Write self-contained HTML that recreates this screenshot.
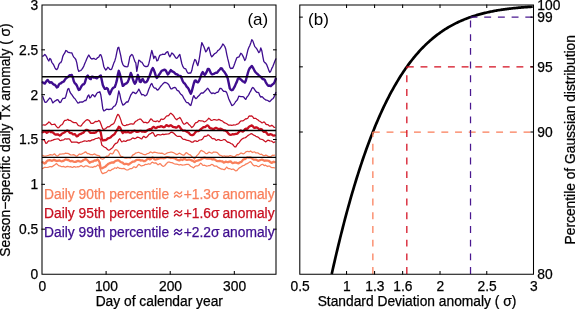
<!DOCTYPE html><html><head><meta charset="utf-8"><style>html,body{margin:0;padding:0;background:#fff;overflow:hidden}svg{display:block;will-change:transform;transform:translateZ(0)}text{font-family:"Liberation Sans",sans-serif;stroke-width:0.25px}</style></head><body>
<svg width="575" height="309" viewBox="0 0 575 309">
<rect width="575" height="309" fill="#fff"/>
<g fill="none" stroke-linejoin="round" stroke-linecap="round">
<polyline points="42.6,155.3 43.6,155.9 44.6,156.0 45.6,156.0 46.6,155.8 47.6,155.5 48.6,155.3 49.6,154.9 50.6,154.6 51.6,154.9 52.6,155.1 53.6,154.4 54.6,153.9 55.6,155.0 56.6,155.9 57.6,156.0 58.6,155.3 59.6,154.2 60.6,154.0 61.6,154.0 62.6,153.9 63.6,153.8 64.6,153.6 65.6,153.2 66.6,153.3 67.6,153.3 68.6,153.6 69.6,154.4 70.6,154.9 71.6,155.0 72.6,154.8 73.6,154.7 74.6,155.1 75.6,155.8 76.6,156.2 77.6,155.6 78.6,154.6 79.6,154.0 80.6,154.3 81.6,154.2 82.6,153.5 83.6,153.0 84.6,152.4 85.6,151.8 86.6,152.8 87.6,153.7 88.6,153.5 89.6,154.1 90.6,154.6 91.6,154.6 92.6,154.8 93.6,154.3 94.6,153.9 95.6,154.6 96.6,155.1 97.6,155.3 98.6,155.7 99.6,155.9 100.6,158.5 101.6,158.8 102.6,159.3 103.6,158.7 104.6,157.8 105.6,156.9 106.6,156.2 107.6,156.2 108.6,155.7 109.6,154.1 110.6,153.3 111.6,153.8 112.6,153.8 113.6,152.5 114.6,150.5 115.6,149.6 116.6,149.8 117.6,150.7 118.6,152.0 119.6,154.3 120.6,156.1 121.6,156.5 122.6,156.7 123.6,157.4 124.6,158.0 125.6,158.1 126.6,158.1 127.6,157.8 128.6,157.6 129.6,158.0 130.6,158.0 131.6,156.8 132.6,155.1 133.6,154.6 134.6,154.2 135.6,153.0 136.6,152.8 137.6,152.5 138.6,152.3 139.6,152.8 140.6,153.3 141.6,153.4 142.6,154.0 143.6,154.4 144.6,154.6 145.6,154.7 146.6,154.0 147.6,153.5 148.6,153.4 149.6,152.6 150.6,151.9 151.6,152.5 152.6,153.0 153.6,152.4 154.6,152.1 155.6,152.4 156.6,152.6 157.6,152.9 158.6,153.1 159.6,153.1 160.6,153.4 161.6,153.2 162.6,153.4 163.6,154.0 164.6,154.3 165.6,154.0 166.6,153.3 167.6,152.8 168.6,152.5 169.6,152.4 170.6,152.1 171.6,152.0 172.6,152.4 173.6,152.7 174.6,153.2 175.6,153.9 176.6,154.5 177.6,154.3 178.6,153.5 179.6,153.2 180.6,153.8 181.6,154.5 182.6,154.8 183.6,155.2 184.6,154.7 185.6,153.1 186.6,152.7 187.6,153.5 188.6,154.3 189.6,154.6 190.6,155.1 191.6,156.3 192.6,157.2 193.6,158.0 194.6,159.0 195.6,157.6 196.6,155.9 197.6,154.9 198.6,154.0 199.6,152.4 200.6,150.8 201.6,150.4 202.6,151.2 203.6,151.5 204.6,152.4 205.6,153.4 206.6,153.7 207.6,153.3 208.6,152.3 209.6,152.2 210.6,152.7 211.6,153.2 212.6,152.8 213.6,152.0 214.6,152.1 215.6,152.1 216.6,152.3 217.6,152.9 218.6,154.0 219.6,155.1 220.6,155.3 221.6,155.8 222.6,156.4 223.6,156.0 224.6,155.9 225.6,156.3 226.6,156.1 227.6,156.1 228.6,156.3 229.6,155.7 230.6,155.7 231.6,156.0 232.6,156.3 233.6,156.8 234.6,156.7 235.6,156.0 236.6,154.9 237.6,154.7 238.6,154.8 239.6,154.1 240.6,153.2 241.6,153.1 242.6,153.7 243.6,153.8 244.6,153.2 245.6,152.1 246.6,151.5 247.6,151.3 248.6,151.7 249.6,151.6 250.6,151.0 251.6,151.9 252.6,152.5 253.6,152.0 254.6,151.9 255.6,152.8 256.6,152.9 257.6,152.8 258.6,153.4 259.6,154.1 260.6,154.3 261.6,154.2 262.6,154.9 263.6,155.7 264.6,155.7 265.6,155.1 266.6,155.3 267.6,156.1 268.6,156.3 269.6,156.5 270.6,156.7 271.6,155.9 272.6,155.2 273.6,155.3 274.6,155.2" stroke="#f97f5b" stroke-width="1.25"/>
<polyline points="42.6,168.6 43.6,167.9 44.6,167.3 45.6,167.4 46.6,167.5 47.6,167.4 48.6,167.2 49.6,166.7 50.6,166.6 51.6,166.9 52.6,166.4 53.6,165.6 54.6,165.0 55.6,164.1 56.6,163.7 57.6,164.6 58.6,165.6 59.6,165.9 60.6,166.2 61.6,166.7 62.6,166.6 63.6,166.4 64.6,166.8 65.6,167.1 66.6,166.7 67.6,166.4 68.6,166.7 69.6,166.8 70.6,166.7 71.6,167.1 72.6,167.4 73.6,166.7 74.6,166.6 75.6,167.2 76.6,167.0 77.6,166.7 78.6,166.8 79.6,166.4 80.6,165.7 81.6,165.7 82.6,166.5 83.6,166.9 84.6,166.4 85.6,165.8 86.6,165.8 87.6,166.1 88.6,166.6 89.6,167.0 90.6,167.1 91.6,167.0 92.6,167.4 93.6,166.9 94.6,166.3 95.6,166.6 96.6,166.0 97.6,164.9 98.6,165.5 99.6,166.7 100.6,170.1 101.6,172.5 102.6,173.7 103.6,173.3 104.6,172.9 105.6,172.7 106.6,172.2 107.6,171.1 108.6,170.2 109.6,170.6 110.6,170.7 111.6,169.6 112.6,169.2 113.6,168.9 114.6,167.8 115.6,168.0 116.6,168.3 117.6,167.2 118.6,167.7 119.6,168.4 120.6,168.3 121.6,168.6 122.6,168.7 123.6,168.4 124.6,168.7 125.6,169.5 126.6,169.9 127.6,170.0 128.6,169.6 129.6,168.9 130.6,168.7 131.6,168.7 132.6,168.0 133.6,166.9 134.6,166.9 135.6,167.6 136.6,167.2 137.6,165.6 138.6,164.4 139.6,164.7 140.6,165.6 141.6,166.0 142.6,165.7 143.6,165.5 144.6,164.9 145.6,164.3 146.6,164.5 147.6,164.2 148.6,163.7 149.6,164.2 150.6,163.9 151.6,162.5 152.6,162.2 153.6,162.9 154.6,163.1 155.6,162.9 156.6,163.4 157.6,164.6 158.6,164.6 159.6,163.6 160.6,163.9 161.6,165.3 162.6,166.1 163.6,166.3 164.6,165.8 165.6,164.5 166.6,163.5 167.6,162.4 168.6,162.0 169.6,162.1 170.6,162.5 171.6,162.5 172.6,162.9 173.6,163.5 174.6,163.9 175.6,164.1 176.6,164.1 177.6,164.3 178.6,164.8 179.6,164.8 180.6,164.5 181.6,164.8 182.6,165.1 183.6,165.0 184.6,164.8 185.6,164.6 186.6,164.4 187.6,164.4 188.6,164.4 189.6,165.3 190.6,166.2 191.6,166.7 192.6,167.3 193.6,167.9 194.6,166.8 195.6,166.0 196.6,165.9 197.6,165.8 198.6,165.5 199.6,164.3 200.6,163.2 201.6,163.8 202.6,165.1 203.6,165.3 204.6,165.2 205.6,165.7 206.6,166.1 207.6,166.0 208.6,165.7 209.6,165.7 210.6,165.1 211.6,164.4 212.6,164.5 213.6,165.6 214.6,166.1 215.6,166.2 216.6,166.1 217.6,166.9 218.6,167.7 219.6,168.1 220.6,168.7 221.6,169.1 222.6,169.2 223.6,169.5 224.6,169.5 225.6,168.5 226.6,167.1 227.6,167.9 228.6,168.7 229.6,168.7 230.6,169.0 231.6,169.5 232.6,169.2 233.6,169.2 234.6,170.0 235.6,170.9 236.6,170.7 237.6,169.7 238.6,168.6 239.6,167.8 240.6,167.2 241.6,166.5 242.6,165.9 243.6,165.5 244.6,165.1 245.6,164.2 246.6,163.8 247.6,163.4 248.6,162.8 249.6,162.1 250.6,161.7 251.6,162.9 252.6,164.5 253.6,165.4 254.6,165.9 255.6,165.5 256.6,165.6 257.6,166.5 258.6,166.7 259.6,166.1 260.6,165.3 261.6,164.5 262.6,164.3 263.6,165.1 264.6,165.6 265.6,165.2 266.6,165.9 267.6,166.5 268.6,166.0 269.6,166.1 270.6,166.9 271.6,167.6 272.6,167.6 273.6,167.7 274.6,167.8" stroke="#f97f5b" stroke-width="1.25"/>
<polyline points="42.6,162.3 43.6,162.8 44.6,163.5 45.6,163.0 46.6,161.5 47.6,160.6 48.6,160.3 49.6,160.2 50.6,160.4 51.6,160.8 52.6,160.6 53.6,159.9 54.6,160.0 55.6,160.7 56.6,161.0 57.6,160.9 58.6,160.6 59.6,160.5 60.6,161.0 61.6,161.3 62.6,161.0 63.6,160.8 64.6,160.1 65.6,159.4 66.6,159.6 67.6,160.0 68.6,160.0 69.6,160.9 70.6,161.3 71.6,161.0 72.6,161.2 73.6,161.6 74.6,161.9 75.6,161.9 76.6,161.4 77.6,161.0 78.6,161.0 79.6,161.3 80.6,161.6 81.6,161.3 82.6,160.7 83.6,160.0 84.6,159.7 85.6,159.1 86.6,159.5 87.6,160.5 88.6,161.6 89.6,162.8 90.6,162.1 91.6,161.7 92.6,161.7 93.6,161.0 94.6,160.5 95.6,160.6 96.6,160.1 97.6,159.4 98.6,160.5 99.6,162.3 100.6,167.7 101.6,168.4 102.6,168.1 103.6,167.5 104.6,167.0 105.6,166.4 106.6,165.4 107.6,164.5 108.6,163.7 109.6,163.2 110.6,163.0 111.6,162.5 112.6,162.5 113.6,162.6 114.6,161.6 115.6,160.9 116.6,160.7 117.6,160.4 118.6,160.3 119.6,161.1 120.6,162.0 121.6,162.3 122.6,162.6 123.6,163.7 124.6,164.2 125.6,163.9 126.6,163.8 127.6,164.3 128.6,164.5 129.6,163.8 130.6,163.1 131.6,162.4 132.6,161.7 133.6,161.7 134.6,161.4 135.6,160.5 136.6,159.9 137.6,159.8 138.6,159.8 139.6,160.0 140.6,160.6 141.6,160.3 142.6,160.4 143.6,161.1 144.6,161.2 145.6,160.6 146.6,159.8 147.6,158.8 148.6,158.5 149.6,159.3 150.6,159.3 151.6,158.1 152.6,157.5 153.6,158.3 154.6,159.4 155.6,159.6 156.6,159.2 157.6,159.0 158.6,158.6 159.6,158.2 160.6,158.0 161.6,157.8 162.6,158.0 163.6,158.3 164.6,158.2 165.6,157.6 166.6,157.2 167.6,157.2 168.6,157.4 169.6,157.7 170.6,158.0 171.6,157.8 172.6,157.8 173.6,158.0 174.6,158.2 175.6,158.8 176.6,159.5 177.6,159.9 178.6,160.3 179.6,160.3 180.6,159.4 181.6,159.6 182.6,160.0 183.6,159.0 184.6,158.8 185.6,159.5 186.6,159.8 187.6,159.8 188.6,159.7 189.6,159.7 190.6,160.0 191.6,160.5 192.6,160.6 193.6,161.5 194.6,162.0 195.6,161.2 196.6,160.8 197.6,160.7 198.6,160.2 199.6,160.0 200.6,159.7 201.6,159.1 202.6,158.5 203.6,157.8 204.6,157.6 205.6,158.1 206.6,158.5 207.6,158.4 208.6,158.6 209.6,158.7 210.6,158.5 211.6,159.1 212.6,159.5 213.6,159.2 214.6,159.3 215.6,160.1 216.6,160.8 217.6,161.1 218.6,161.1 219.6,161.0 220.6,161.2 221.6,161.3 222.6,161.5 223.6,162.6 224.6,162.4 225.6,161.6 226.6,161.9 227.6,162.1 228.6,162.0 229.6,161.6 230.6,161.4 231.6,162.3 232.6,163.1 233.6,162.9 234.6,162.5 235.6,162.6 236.6,162.7 237.6,163.2 238.6,163.3 239.6,162.5 240.6,162.1 241.6,161.7 242.6,160.3 243.6,159.3 244.6,159.2 245.6,158.7 246.6,157.7 247.6,157.3 248.6,157.7 249.6,157.4 250.6,157.5 251.6,158.1 252.6,158.9 253.6,159.6 254.6,159.7 255.6,159.6 256.6,159.9 257.6,160.6 258.6,160.8 259.6,160.3 260.6,160.0 261.6,159.7 262.6,159.7 263.6,160.4 264.6,160.8 265.6,160.5 266.6,160.6 267.6,160.7 268.6,160.8 269.6,161.5 270.6,162.3 271.6,162.9 272.6,162.3 273.6,161.7 274.6,162.1" stroke="#f97f5b" stroke-width="2.30"/>
<polyline points="42.8,125.0 43.8,124.9 44.8,125.1 45.8,124.8 46.8,124.0 47.8,123.2 48.8,122.0 49.8,122.4 50.8,123.8 51.8,124.7 52.8,124.5 53.8,124.3 54.8,124.1 55.8,125.6 56.8,126.9 57.8,127.8 58.8,127.7 59.8,126.4 60.8,125.2 61.8,124.7 62.8,123.7 63.8,121.6 64.8,120.3 65.8,120.4 66.8,120.0 67.8,119.3 68.8,120.3 69.8,120.4 70.8,120.7 71.8,121.4 72.8,122.2 73.8,122.6 74.8,122.5 75.8,122.6 76.8,123.3 77.8,125.0 78.8,125.6 79.8,126.0 80.8,126.2 81.8,125.0 82.8,123.5 83.8,122.5 84.8,121.4 85.8,120.5 86.8,119.8 87.8,119.7 88.8,120.3 89.8,121.3 90.8,123.1 91.8,123.3 92.8,123.3 93.8,122.9 94.8,121.9 95.8,121.4 96.8,121.7 97.8,121.2 98.8,120.4 99.8,121.2 100.8,123.7 101.8,126.5 102.8,128.9 103.8,129.5 104.8,129.0 105.8,128.5 106.8,127.4 107.8,126.7 108.8,126.9 109.8,126.2 110.8,125.2 111.8,124.6 112.8,124.1 113.8,123.5 114.8,121.5 115.8,118.9 116.8,116.2 117.8,114.4 118.8,115.0 119.8,117.2 120.8,119.9 121.8,123.4 122.8,125.0 123.8,125.4 124.8,125.7 125.8,125.5 126.8,124.7 127.8,125.0 128.8,124.5 129.8,124.1 130.8,123.9 131.8,123.8 132.8,124.2 133.8,123.8 134.8,122.2 135.8,121.3 136.8,120.7 137.8,119.9 138.8,119.5 139.8,119.0 140.8,119.1 141.8,120.3 142.8,121.5 143.8,122.6 144.8,122.4 145.8,122.4 146.8,122.9 147.8,122.8 148.8,122.0 149.8,120.4 150.8,118.9 151.8,119.3 152.8,120.7 153.8,121.3 154.8,121.4 155.8,121.6 156.8,121.0 157.8,120.9 158.8,121.9 159.8,121.3 160.8,119.4 161.8,119.0 162.8,119.5 163.8,119.1 164.8,118.2 165.8,116.9 166.8,115.9 167.8,115.9 168.8,115.4 169.8,114.0 170.8,113.1 171.8,114.0 172.8,114.8 173.8,116.1 174.8,117.8 175.8,119.1 176.8,119.8 177.8,118.7 178.8,118.2 179.8,117.5 180.8,118.8 181.8,120.7 182.8,122.9 183.8,124.1 184.8,124.1 185.8,123.2 186.8,122.5 187.8,123.1 188.8,124.5 189.8,125.2 190.8,126.3 191.8,127.5 192.8,126.8 193.8,125.6 194.8,123.9 195.8,122.5 196.8,122.5 197.8,121.9 198.8,120.5 199.8,120.7 200.8,121.0 201.8,120.8 202.8,121.0 203.8,121.6 204.8,121.8 205.8,121.3 206.8,120.4 207.8,119.4 208.8,118.2 209.8,118.9 210.8,120.1 211.8,120.3 212.8,120.0 213.8,119.5 214.8,119.5 215.8,120.0 216.8,120.2 217.8,119.9 218.8,119.4 219.8,119.8 220.8,120.6 221.8,120.7 222.8,121.3 223.8,122.4 224.8,122.9 225.8,123.2 226.8,123.7 227.8,124.4 228.8,125.2 229.8,125.2 230.8,125.1 231.8,125.3 232.8,125.2 233.8,124.8 234.8,125.0 235.8,124.8 236.8,124.2 237.8,124.1 238.8,123.4 239.8,122.0 240.8,121.0 241.8,120.8 242.8,120.9 243.8,120.2 244.8,119.4 245.8,118.7 246.8,118.8 247.8,118.2 248.8,116.3 249.8,115.9 250.8,116.2 251.8,115.9 252.8,116.9 253.8,118.4 254.8,118.4 255.8,118.4 256.8,119.3 257.8,119.8 258.8,120.7 259.8,121.2 260.8,121.9 261.8,122.8 262.8,122.6 263.8,121.9 264.8,122.5 265.8,124.1 266.8,124.6 267.8,124.6 268.8,125.4 269.8,126.2 270.8,125.9 271.8,125.2 272.8,125.9 273.8,127.1 274.8,127.4" stroke="#c80f20" stroke-width="1.25"/>
<polyline points="42.8,139.8 43.8,139.7 44.8,141.1 45.8,143.3 46.8,143.1 47.8,141.7 48.8,140.8 49.8,141.0 50.8,140.8 51.8,140.4 52.8,140.1 53.8,139.6 54.8,139.3 55.8,139.2 56.8,139.0 57.8,138.9 58.8,139.2 59.8,140.4 60.8,140.7 61.8,140.0 62.8,140.0 63.8,139.8 64.8,138.9 65.8,138.8 66.8,139.1 67.8,138.8 68.8,138.8 69.8,139.4 70.8,141.2 71.8,142.3 72.8,142.0 73.8,142.1 74.8,142.2 75.8,142.1 76.8,142.1 77.8,142.6 78.8,143.1 79.8,142.5 80.8,142.2 81.8,142.0 82.8,141.5 83.8,141.2 84.8,140.9 85.8,141.0 86.8,141.3 87.8,141.0 88.8,140.7 89.8,141.1 90.8,140.7 91.8,139.9 92.8,139.9 93.8,139.7 94.8,139.0 95.8,138.5 96.8,138.4 97.8,138.1 98.8,137.7 99.8,138.2 100.8,140.2 101.8,145.0 102.8,145.9 103.8,146.8 104.8,147.3 105.8,147.7 106.8,148.8 107.8,149.7 108.8,150.2 109.8,149.7 110.8,149.0 111.8,148.3 112.8,147.4 113.8,145.5 114.8,144.3 115.8,143.3 116.8,143.1 117.8,142.0 118.8,139.6 119.8,138.7 120.8,140.6 121.8,141.8 122.8,141.5 123.8,140.8 124.8,141.3 125.8,141.4 126.8,140.6 127.8,140.2 128.8,140.1 129.8,139.8 130.8,139.5 131.8,138.6 132.8,137.9 133.8,138.3 134.8,138.7 135.8,138.2 136.8,137.4 137.8,137.2 138.8,137.5 139.8,137.9 140.8,138.6 141.8,138.8 142.8,137.2 143.8,136.3 144.8,137.1 145.8,137.6 146.8,137.0 147.8,136.0 148.8,134.6 149.8,133.9 150.8,133.6 151.8,132.7 152.8,132.5 153.8,133.8 154.8,135.9 155.8,136.3 156.8,135.1 157.8,134.6 158.8,134.6 159.8,134.8 160.8,135.0 161.8,134.5 162.8,134.2 163.8,134.6 164.8,134.4 165.8,134.2 166.8,134.1 167.8,134.0 168.8,133.9 169.8,133.2 170.8,132.3 171.8,132.1 172.8,132.6 173.8,133.2 174.8,134.2 175.8,135.2 176.8,136.0 177.8,136.4 178.8,136.4 179.8,136.3 180.8,136.6 181.8,137.9 182.8,139.0 183.8,139.4 184.8,139.4 185.8,139.8 186.8,140.3 187.8,140.4 188.8,140.7 189.8,140.9 190.8,141.6 191.8,142.2 192.8,142.2 193.8,141.4 194.8,140.8 195.8,140.8 196.8,141.5 197.8,141.4 198.8,140.4 199.8,140.0 200.8,139.9 201.8,139.6 202.8,138.7 203.8,137.0 204.8,136.2 205.8,136.4 206.8,136.0 207.8,134.8 208.8,135.1 209.8,136.1 210.8,137.0 211.8,138.2 212.8,138.8 213.8,138.5 214.8,139.0 215.8,140.2 216.8,140.3 217.8,139.6 218.8,139.5 219.8,140.1 220.8,140.5 221.8,140.3 222.8,140.0 223.8,139.5 224.8,139.6 225.8,140.4 226.8,141.6 227.8,142.3 228.8,142.2 229.8,142.8 230.8,143.5 231.8,143.8 232.8,144.5 233.8,145.8 234.8,146.9 235.8,146.9 236.8,145.1 237.8,143.6 238.8,143.0 239.8,141.6 240.8,140.2 241.8,139.3 242.8,138.6 243.8,138.0 244.8,137.8 245.8,137.4 246.8,136.6 247.8,135.6 248.8,135.0 249.8,134.5 250.8,133.8 251.8,133.6 252.8,134.5 253.8,135.1 254.8,135.5 255.8,136.3 256.8,136.8 257.8,136.9 258.8,137.7 259.8,138.9 260.8,139.2 261.8,139.3 262.8,139.8 263.8,140.4 264.8,141.2 265.8,141.9 266.8,141.0 267.8,140.2 268.8,140.4 269.8,140.9 270.8,141.0 271.8,141.2 272.8,142.0 273.8,142.6 274.8,141.9" stroke="#c80f20" stroke-width="1.25"/>
<polyline points="42.8,132.2 43.8,131.8 44.8,131.4 45.8,131.9 46.8,132.8 47.8,132.2 48.8,131.0 49.8,131.1 50.8,132.1 51.8,132.2 52.8,132.4 53.8,133.3 54.8,134.2 55.8,134.7 56.8,134.5 57.8,134.3 58.8,134.9 59.8,135.6 60.8,135.0 61.8,133.7 62.8,133.2 63.8,132.8 64.8,132.2 65.8,131.3 66.8,130.7 67.8,130.7 68.8,131.5 69.8,132.8 70.8,133.1 71.8,133.2 72.8,134.3 73.8,134.4 74.8,134.1 75.8,135.3 76.8,136.4 77.8,136.0 78.8,134.7 79.8,134.2 80.8,134.0 81.8,133.3 82.8,133.0 83.8,132.3 84.8,130.9 85.8,130.0 86.8,130.0 87.8,130.2 88.8,130.8 89.8,132.4 90.8,132.9 91.8,132.9 92.8,132.9 93.8,132.7 94.8,132.8 95.8,132.4 96.8,131.2 97.8,130.5 98.8,130.2 99.8,130.3 100.8,132.8 101.8,138.6 102.8,140.3 103.8,140.4 104.8,140.0 105.8,140.1 106.8,139.4 107.8,138.4 108.8,138.2 109.8,137.8 110.8,137.2 111.8,136.1 112.8,135.3 113.8,134.7 114.8,133.8 115.8,132.0 116.8,130.3 117.8,128.7 118.8,126.8 119.8,127.2 120.8,129.1 121.8,131.7 122.8,133.1 123.8,131.9 124.8,131.9 125.8,132.3 126.8,132.2 127.8,132.0 128.8,132.2 129.8,132.6 130.8,132.6 131.8,132.1 132.8,131.5 133.8,130.9 134.8,130.7 135.8,131.4 136.8,131.9 137.8,131.8 138.8,131.5 139.8,130.9 140.8,130.8 141.8,131.5 142.8,131.7 143.8,131.7 144.8,131.9 145.8,131.6 146.8,130.8 147.8,130.1 148.8,129.5 149.8,129.1 150.8,129.1 151.8,128.6 152.8,127.3 153.8,126.9 154.8,127.7 155.8,128.1 156.8,127.6 157.8,126.8 158.8,126.9 159.8,126.8 160.8,126.1 161.8,126.3 162.8,126.9 163.8,127.3 164.8,126.9 165.8,125.6 166.8,125.1 167.8,125.9 168.8,126.3 169.8,125.6 170.8,125.2 171.8,125.9 172.8,126.8 173.8,127.0 174.8,127.1 175.8,127.6 176.8,127.5 177.8,126.5 178.8,125.9 179.8,127.1 180.8,128.6 181.8,129.6 182.8,130.5 183.8,130.6 184.8,130.6 185.8,131.0 186.8,131.7 187.8,132.2 188.8,132.8 189.8,134.1 190.8,134.9 191.8,135.1 192.8,135.0 193.8,134.4 194.8,133.1 195.8,131.8 196.8,131.0 197.8,131.1 198.8,131.0 199.8,130.1 200.8,129.2 201.8,128.5 202.8,127.6 203.8,127.1 204.8,127.2 205.8,126.5 206.8,125.6 207.8,125.4 208.8,126.5 209.8,128.0 210.8,128.5 211.8,128.5 212.8,129.0 213.8,129.2 214.8,128.4 215.8,127.9 216.8,128.2 217.8,128.7 218.8,129.2 219.8,128.9 220.8,128.7 221.8,129.2 222.8,129.8 223.8,130.3 224.8,130.4 225.8,130.8 226.8,131.6 227.8,132.8 228.8,134.1 229.8,134.7 230.8,134.8 231.8,134.5 232.8,134.2 233.8,134.3 234.8,134.1 235.8,133.9 236.8,133.9 237.8,133.2 238.8,132.1 239.8,131.1 240.8,130.5 241.8,131.3 242.8,131.7 243.8,130.8 244.8,129.3 245.8,128.7 246.8,129.0 247.8,128.4 248.8,126.9 249.8,126.3 250.8,125.9 251.8,125.4 252.8,126.1 253.8,127.6 254.8,127.9 255.8,127.4 256.8,127.5 257.8,128.0 258.8,128.9 259.8,129.5 260.8,129.0 261.8,129.3 262.8,130.9 263.8,131.9 264.8,131.9 265.8,131.9 266.8,133.2 267.8,134.7 268.8,134.9 269.8,134.4 270.8,134.2 271.8,134.6 272.8,135.3 273.8,135.6 274.8,135.4" stroke="#c80f20" stroke-width="2.30"/>
<polyline points="42.8,56.2 43.8,55.7 44.8,54.4 45.8,55.5 46.8,57.2 47.8,59.5 48.8,61.0 49.8,58.4 50.8,59.3 51.8,62.3 52.8,63.6 53.8,65.2 54.8,67.6 55.8,69.1 56.8,69.6 57.8,68.2 58.8,64.7 59.8,63.0 60.8,62.6 61.8,60.5 62.8,56.4 63.8,54.3 64.8,52.9 65.8,50.5 66.8,50.9 67.8,52.1 68.8,52.5 69.8,52.7 70.8,52.8 71.8,52.8 72.8,55.2 73.8,57.1 74.8,58.1 75.8,59.5 76.8,62.9 77.8,68.7 78.8,71.4 79.8,70.8 80.8,70.5 81.8,69.3 82.8,68.0 83.8,66.1 84.8,63.4 85.8,61.2 86.8,58.7 87.8,56.7 88.8,55.0 89.8,56.7 90.8,58.3 91.8,59.1 92.8,58.7 93.8,58.3 94.8,59.0 95.8,59.4 96.8,58.5 97.8,57.5 98.8,57.1 99.8,54.9 100.8,54.7 101.8,57.3 102.8,61.4 103.8,66.5 104.8,68.7 105.8,70.0 106.8,69.0 107.8,67.2 108.8,68.1 109.8,69.4 110.8,69.6 111.8,68.9 112.8,66.0 113.8,63.1 114.8,60.9 115.8,57.4 116.8,52.4 117.8,47.8 118.8,47.3 119.8,51.6 120.8,55.9 121.8,61.6 122.8,64.3 123.8,65.8 124.8,66.6 125.8,66.5 126.8,66.8 127.8,66.7 128.8,62.3 129.8,56.9 130.8,55.5 131.8,54.4 132.8,55.4 133.8,58.4 134.8,61.3 135.8,62.9 136.8,71.4 137.8,65.8 138.8,60.1 139.8,60.7 140.8,61.9 141.8,62.2 142.8,63.7 143.8,65.5 144.8,66.3 145.8,66.5 146.8,66.7 147.8,66.2 148.8,63.7 149.8,59.6 150.8,54.7 151.8,50.4 152.8,54.0 153.8,58.5 154.8,56.2 155.8,57.1 156.8,60.9 157.8,60.4 158.8,57.8 159.8,55.3 160.8,54.8 161.8,54.6 162.8,54.2 163.8,54.3 164.8,54.4 165.8,53.0 166.8,52.0 167.8,51.7 168.8,54.9 169.8,56.8 170.8,55.1 171.8,52.9 172.8,53.8 173.8,54.8 174.8,56.3 175.8,58.0 176.8,58.3 177.8,57.2 178.8,55.7 179.8,54.4 180.8,59.0 181.8,63.5 182.8,66.4 183.8,68.0 184.8,68.7 185.8,68.9 186.8,71.3 187.8,72.9 188.8,73.3 189.8,72.8 190.8,73.1 191.8,70.6 192.8,65.7 193.8,62.4 194.8,59.4 195.8,60.3 196.8,63.2 197.8,65.7 198.8,61.5 199.8,55.6 200.8,48.7 201.8,42.6 202.8,44.6 203.8,46.5 204.8,49.2 205.8,51.9 206.8,50.7 207.8,48.2 208.8,47.2 209.8,51.1 210.8,55.1 211.8,56.8 212.8,55.8 213.8,54.5 214.8,53.5 215.8,53.1 216.8,52.1 217.8,50.6 218.8,50.0 219.8,49.1 220.8,47.6 221.8,46.1 222.8,44.0 223.8,45.0 224.8,46.5 225.8,49.3 226.8,54.6 227.8,58.9 228.8,62.8 229.8,67.4 230.8,68.7 231.8,68.2 232.8,68.3 233.8,65.9 234.8,63.3 235.8,60.4 236.8,57.8 237.8,57.2 238.8,57.2 239.8,55.4 240.8,53.3 241.8,54.0 242.8,55.9 243.8,57.9 244.8,60.5 245.8,58.7 246.8,54.7 247.8,50.3 248.8,47.5 249.8,45.6 250.8,42.9 251.8,39.7 252.8,40.9 253.8,43.8 254.8,46.6 255.8,47.6 256.8,48.9 257.8,50.7 258.8,52.6 259.8,51.7 260.8,47.9 261.8,50.7 262.8,56.3 263.8,61.4 264.8,62.6 265.8,63.3 266.8,64.9 267.8,67.6 268.8,70.4 269.8,72.4 270.8,71.1 271.8,68.4 272.8,66.6 273.8,64.0 274.8,61.3 275.8,58.9" stroke="#3f0d8f" stroke-width="1.30"/>
<polyline points="42.8,96.4 43.8,99.6 44.8,102.1 45.8,102.4 46.8,101.7 47.8,100.3 48.8,99.1 49.8,98.0 50.8,98.5 51.8,100.5 52.8,102.9 53.8,102.1 54.8,101.1 55.8,100.7 56.8,99.8 57.8,99.6 58.8,101.1 59.8,102.6 60.8,102.2 61.8,100.0 62.8,98.5 63.8,98.3 64.8,98.4 65.8,96.5 66.8,92.7 67.8,89.0 68.8,88.5 69.8,91.6 70.8,93.5 71.8,94.6 72.8,96.2 73.8,97.7 74.8,98.5 75.8,100.0 76.8,101.5 77.8,103.0 78.8,102.9 79.8,102.0 80.8,102.1 81.8,101.9 82.8,102.0 83.8,101.3 84.8,100.5 85.8,100.7 86.8,98.5 87.8,95.9 88.8,94.9 89.8,98.0 90.8,97.2 91.8,95.3 92.8,94.6 93.8,95.7 94.8,96.8 95.8,95.2 96.8,93.4 97.8,92.4 98.8,92.4 99.8,91.7 100.8,94.8 101.8,101.3 102.8,108.7 103.8,110.9 104.8,110.6 105.8,109.7 106.8,109.2 107.8,109.4 108.8,109.5 109.8,109.3 110.8,109.2 111.8,109.1 112.8,107.6 113.8,106.4 114.8,106.0 115.8,104.7 116.8,102.1 117.8,96.3 118.8,90.9 119.8,94.1 120.8,99.1 121.8,102.5 122.8,105.1 123.8,104.6 124.8,103.9 125.8,102.8 126.8,101.8 127.8,102.2 128.8,99.9 129.8,97.4 130.8,95.0 131.8,93.7 132.8,92.2 133.8,92.4 134.8,93.1 135.8,93.6 136.8,92.5 137.8,91.0 138.8,89.1 139.8,90.9 140.8,93.2 141.8,94.9 142.8,94.5 143.8,94.9 144.8,95.9 145.8,95.6 146.8,94.7 147.8,92.3 148.8,89.3 149.8,87.1 150.8,84.5 151.8,83.4 152.8,85.8 153.8,87.5 154.8,88.2 155.8,88.2 156.8,89.7 157.8,90.2 158.8,89.0 159.8,87.7 160.8,86.2 161.8,85.1 162.8,83.9 163.8,83.1 164.8,82.3 165.8,82.6 166.8,83.0 167.8,83.8 168.8,84.7 169.8,86.9 170.8,88.8 171.8,88.9 172.8,88.1 173.8,87.7 174.8,87.4 175.8,88.0 176.8,89.9 177.8,90.7 178.8,91.2 179.8,92.9 180.8,94.2 181.8,94.9 182.8,96.2 183.8,98.3 184.8,99.7 185.8,101.6 186.8,102.6 187.8,102.6 188.8,103.5 189.8,104.9 190.8,105.5 191.8,102.1 192.8,98.1 193.8,95.6 194.8,97.5 195.8,98.6 196.8,98.0 197.8,96.7 198.8,95.8 199.8,94.7 200.8,93.3 201.8,92.9 202.8,93.1 203.8,92.4 204.8,91.3 205.8,90.3 206.8,89.1 207.8,88.3 208.8,89.6 209.8,91.3 210.8,92.7 211.8,93.6 212.8,93.0 213.8,93.1 214.8,93.7 215.8,93.0 216.8,92.3 217.8,92.4 218.8,90.8 219.8,88.5 220.8,88.4 221.8,89.0 222.8,90.6 223.8,91.4 224.8,91.4 225.8,91.5 226.8,92.9 227.8,95.9 228.8,99.0 229.8,101.1 230.8,103.2 231.8,105.6 232.8,105.1 233.8,104.5 234.8,103.0 235.8,101.4 236.8,100.6 237.8,98.9 238.8,96.1 239.8,96.3 240.8,96.6 241.8,96.7 242.8,96.7 243.8,97.1 244.8,98.5 245.8,99.4 246.8,97.2 247.8,96.1 248.8,94.6 249.8,92.5 250.8,90.9 251.8,88.5 252.8,87.4 253.8,88.3 254.8,89.8 255.8,91.3 256.8,92.3 257.8,92.4 258.8,92.9 259.8,95.7 260.8,97.1 261.8,96.6 262.8,97.3 263.8,98.5 264.8,99.3 265.8,100.1 266.8,100.2 267.8,100.5 268.8,101.3 269.8,101.5 270.8,100.5 271.8,99.4 272.8,98.8 273.8,97.5 274.8,95.3 275.8,92.4" stroke="#3f0d8f" stroke-width="1.30"/>
<polyline points="42.8,82.3 43.8,83.2 44.8,83.5 45.8,82.0 46.8,80.6 47.8,80.0 48.8,81.7 49.8,82.7 50.8,82.3 51.8,82.5 52.8,83.8 53.8,84.6 54.8,84.8 55.8,85.8 56.8,87.5 57.8,87.0 58.8,84.8 59.8,83.6 60.8,83.3 61.8,82.3 62.8,82.0 63.8,81.5 64.8,79.9 65.8,78.5 66.8,77.8 67.8,77.1 68.8,76.1 69.8,75.1 70.8,75.3 71.8,74.9 72.8,77.4 73.8,81.3 74.8,83.3 75.8,84.0 76.8,85.5 77.8,87.9 78.8,90.0 79.8,89.4 80.8,87.5 81.8,85.7 82.8,84.5 83.8,84.3 84.8,82.8 85.8,79.4 86.8,76.5 87.8,75.5 88.8,77.5 89.8,78.6 90.8,79.1 91.8,76.6 92.8,76.7 93.8,77.6 94.8,77.3 95.8,77.9 96.8,78.3 97.8,77.4 98.8,77.0 99.8,76.0 100.8,75.5 101.8,80.2 102.8,84.9 103.8,87.2 104.8,88.8 105.8,88.7 106.8,88.1 107.8,89.0 108.8,92.2 109.8,94.2 110.8,92.1 111.8,89.6 112.8,88.2 113.8,87.5 114.8,87.0 115.8,84.1 116.8,80.7 117.8,74.7 118.8,70.8 119.8,73.9 120.8,77.5 121.8,81.9 122.8,85.9 123.8,85.2 124.8,84.1 125.8,83.7 126.8,83.1 127.8,81.9 128.8,79.4 129.8,76.4 130.8,73.0 131.8,75.3 132.8,78.8 133.8,81.9 134.8,83.7 135.8,82.3 136.8,79.2 137.8,75.0 138.8,77.2 139.8,81.7 140.8,82.0 141.8,79.8 142.8,79.1 143.8,81.3 144.8,82.3 145.8,82.4 146.8,81.6 147.8,79.8 148.8,77.3 149.8,75.5 150.8,72.5 151.8,69.7 152.8,68.1 153.8,69.9 154.8,72.7 155.8,75.9 156.8,78.0 157.8,76.7 158.8,75.0 159.8,73.8 160.8,72.1 161.8,70.8 162.8,70.3 163.8,70.0 164.8,69.7 165.8,70.4 166.8,72.5 167.8,74.4 168.8,73.4 169.8,71.6 170.8,70.1 171.8,71.1 172.8,71.7 173.8,72.1 174.8,73.1 175.8,74.1 176.8,74.3 177.8,74.9 178.8,75.8 179.8,75.9 180.8,76.2 181.8,78.8 182.8,81.4 183.8,82.9 184.8,83.6 185.8,85.1 186.8,86.9 187.8,87.7 188.8,89.3 189.8,91.8 190.8,93.7 191.8,91.2 192.8,87.4 193.8,83.5 194.8,80.6 195.8,80.5 196.8,82.0 197.8,82.4 198.8,81.2 199.8,79.1 200.8,76.1 201.8,73.4 202.8,72.1 203.8,73.9 204.8,74.9 205.8,73.5 206.8,71.6 207.8,69.0 208.8,68.9 209.8,70.7 210.8,73.0 211.8,74.2 212.8,74.2 213.8,73.9 214.8,73.3 215.8,72.7 216.8,72.8 217.8,71.8 218.8,70.5 219.8,69.5 220.8,68.3 221.8,68.4 222.8,70.2 223.8,71.3 224.8,72.6 225.8,74.1 226.8,75.8 227.8,78.7 228.8,83.6 229.8,88.4 230.8,89.8 231.8,90.3 232.8,89.8 233.8,88.0 234.8,86.4 235.8,83.9 236.8,81.9 237.8,79.0 238.8,77.6 239.8,78.7 240.8,79.6 241.8,80.3 242.8,81.3 243.8,81.6 244.8,82.6 245.8,80.7 246.8,76.8 247.8,73.2 248.8,70.0 249.8,68.1 250.8,67.1 251.8,65.9 252.8,67.4 253.8,69.3 254.8,71.2 255.8,72.5 256.8,73.5 257.8,74.2 258.8,75.3 259.8,76.2 260.8,76.7 261.8,78.1 262.8,79.1 263.8,79.2 264.8,80.0 265.8,82.3 266.8,83.9 267.8,85.4 268.8,85.9 269.8,85.5 270.8,86.1 271.8,85.2 272.8,84.2 273.8,83.5 274.8,81.4 275.8,78.8" stroke="#3f0d8f" stroke-width="2.40"/>
</g>
<line x1="42.00" y1="76.73" x2="276.00" y2="76.73" stroke="#000" stroke-width="1.35"/>
<line x1="42.00" y1="130.53" x2="276.00" y2="130.53" stroke="#000" stroke-width="1.35"/>
<line x1="42.00" y1="157.43" x2="276.00" y2="157.43" stroke="#000" stroke-width="1.35"/>
<g stroke="#000" stroke-width="1.05" fill="none" stroke-linecap="square">
<path d="M42.00 5.00V274.30H276.00V5.00Z"/>
<line x1="106.11" y1="274.00" x2="106.11" y2="271.50"/>
<line x1="106.11" y1="5.00" x2="106.11" y2="7.50"/>
<line x1="170.22" y1="274.00" x2="170.22" y2="271.50"/>
<line x1="170.22" y1="5.00" x2="170.22" y2="7.50"/>
<line x1="234.33" y1="274.00" x2="234.33" y2="271.50"/>
<line x1="234.33" y1="5.00" x2="234.33" y2="7.50"/>
<line x1="42.00" y1="229.17" x2="44.50" y2="229.17"/>
<line x1="276.00" y1="229.17" x2="273.50" y2="229.17"/>
<line x1="42.00" y1="184.33" x2="44.50" y2="184.33"/>
<line x1="276.00" y1="184.33" x2="273.50" y2="184.33"/>
<line x1="42.00" y1="139.50" x2="44.50" y2="139.50"/>
<line x1="276.00" y1="139.50" x2="273.50" y2="139.50"/>
<line x1="42.00" y1="94.67" x2="44.50" y2="94.67"/>
<line x1="276.00" y1="94.67" x2="273.50" y2="94.67"/>
<line x1="42.00" y1="49.83" x2="44.50" y2="49.83"/>
<line x1="276.00" y1="49.83" x2="273.50" y2="49.83"/>
</g>
<g font-size="13.8" fill="#000" stroke="#000">
<text x="38.3" y="278.85" text-anchor="end">0</text>
<text x="38.3" y="234.02" text-anchor="end">0.5</text>
<text x="38.3" y="189.18" text-anchor="end">1</text>
<text x="38.3" y="144.35" text-anchor="end">1.5</text>
<text x="38.3" y="99.52" text-anchor="end">2</text>
<text x="38.3" y="54.68" text-anchor="end">2.5</text>
<text x="38.3" y="9.85" text-anchor="end">3</text>
<text x="42.30" y="291.0" text-anchor="middle">0</text>
<text x="106.41" y="291.0" text-anchor="middle">100</text>
<text x="170.52" y="291.0" text-anchor="middle">200</text>
<text x="234.63" y="291.0" text-anchor="middle">300</text>
<text x="159.3" y="306.1" text-anchor="middle">Day of calendar year</text>
<text transform="translate(10.3,140) rotate(-90)" text-anchor="middle">Season−specific daily Tx anomaly ( σ)</text>
</g>
<text x="257.8" y="24.5" font-size="17" text-anchor="middle" stroke="none">(a)</text>
<g font-size="13.8">
<text x="44.1" y="199.3" fill="#f97f5b" stroke="#f97f5b">Daily 90th percentile</text>
<path d="M174.4 193.70C175.6 191.20 177.0 191.60 178.0 192.80C179.0 194.00 180.5 194.30 181.7 191.90" fill="none" stroke="#f97f5b" stroke-width="1.35" stroke-linecap="round"/>
<path d="M174.4 197.10C175.6 194.60 177.0 195.00 178.0 196.20C179.0 197.40 180.5 197.70 181.7 195.30" fill="none" stroke="#f97f5b" stroke-width="1.35" stroke-linecap="round"/>
<text x="183.7" y="199.3" fill="#f97f5b" stroke="#f97f5b">+1.3σ</text>
<text x="222.4" y="199.3" fill="#f97f5b" stroke="#f97f5b">anomaly</text>
<text x="44.1" y="218.1" fill="#c80f20" stroke="#c80f20">Daily 95th percentile</text>
<path d="M174.4 212.50C175.6 210.00 177.0 210.40 178.0 211.60C179.0 212.80 180.5 213.10 181.7 210.70" fill="none" stroke="#c80f20" stroke-width="1.35" stroke-linecap="round"/>
<path d="M174.4 215.90C175.6 213.40 177.0 213.80 178.0 215.00C179.0 216.20 180.5 216.50 181.7 214.10" fill="none" stroke="#c80f20" stroke-width="1.35" stroke-linecap="round"/>
<text x="183.7" y="218.1" fill="#c80f20" stroke="#c80f20">+1.6σ</text>
<text x="222.4" y="218.1" fill="#c80f20" stroke="#c80f20">anomaly</text>
<text x="44.1" y="236.8" fill="#3f0d8f" stroke="#3f0d8f">Daily 99th percentile</text>
<path d="M174.4 231.20C175.6 228.70 177.0 229.10 178.0 230.30C179.0 231.50 180.5 231.80 181.7 229.40" fill="none" stroke="#3f0d8f" stroke-width="1.35" stroke-linecap="round"/>
<path d="M174.4 234.60C175.6 232.10 177.0 232.50 178.0 233.70C179.0 234.90 180.5 235.20 181.7 232.80" fill="none" stroke="#3f0d8f" stroke-width="1.35" stroke-linecap="round"/>
<text x="183.7" y="236.8" fill="#3f0d8f" stroke="#3f0d8f">+2.2σ</text>
<text x="222.4" y="236.8" fill="#3f0d8f" stroke="#3f0d8f">anomaly</text>
</g>
<polyline points="331.73,274.01 332.67,269.82 333.60,265.67 334.54,261.58 335.47,257.53 336.41,253.54 337.34,249.59 338.28,245.69 339.21,241.84 340.15,238.03 341.08,234.28 342.02,230.57 342.95,226.90 343.89,223.28 344.82,219.71 345.75,216.18 346.69,212.70 347.62,209.26 348.56,205.87 349.49,202.52 350.43,199.21 351.36,195.95 352.30,192.73 353.23,189.55 354.17,186.42 355.10,183.32 356.04,180.27 356.97,177.26 357.91,174.29 358.84,171.36 359.78,168.47 360.71,165.62 361.65,162.81 362.58,160.03 363.52,157.30 364.45,154.60 365.39,151.95 366.32,149.32 367.26,146.74 368.19,144.19 369.12,141.68 370.06,139.21 370.99,136.77 371.93,134.37 372.86,132.00 373.80,129.67 374.73,127.37 375.67,125.10 376.60,122.87 377.54,120.67 378.47,118.51 379.41,116.38 380.34,114.28 381.28,112.21 382.21,110.17 383.15,108.17 384.08,106.19 385.02,104.25 385.95,102.34 386.89,100.46 387.82,98.60 388.76,96.78 389.69,94.98 390.63,93.22 391.56,91.48 392.49,89.77 393.43,88.09 394.36,86.43 395.30,84.80 396.23,83.20 397.17,81.63 398.10,80.08 399.04,78.55 399.97,77.06 400.91,75.58 401.84,74.14 402.78,72.71 403.71,71.31 404.65,69.94 405.58,68.59 406.52,67.26 407.45,65.96 408.39,64.67 409.32,63.41 410.26,62.18 411.19,60.96 412.13,59.77 413.06,58.60 414.00,57.44 414.93,56.31 415.86,55.20 416.80,54.11 417.73,53.04 418.67,51.99 419.60,50.96 420.54,49.95 421.47,48.95 422.41,47.98 423.34,47.02 424.28,46.08 425.21,45.16 426.15,44.26 427.08,43.37 428.02,42.50 428.95,41.65 429.89,40.81 430.82,39.99 431.76,39.19 432.69,38.40 433.63,37.63 434.56,36.87 435.50,36.13 436.43,35.40 437.37,34.69 438.30,33.99 439.23,33.31 440.17,32.64 441.10,31.98 442.04,31.34 442.97,30.70 443.91,30.09 444.84,29.48 445.78,28.89 446.71,28.31 447.65,27.74 448.58,27.19 449.52,26.64 450.45,26.11 451.39,25.59 452.32,25.08 453.26,24.58 454.19,24.09 455.13,23.62 456.06,23.15 457.00,22.69 457.93,22.25 458.87,21.81 459.80,21.38 460.74,20.96 461.67,20.56 462.60,20.16 463.54,19.77 464.47,19.38 465.41,19.01 466.34,18.65 467.28,18.29 468.21,17.94 469.15,17.60 470.08,17.27 471.02,16.95 471.95,16.63 472.89,16.32 473.82,16.02 474.76,15.72 475.69,15.44 476.63,15.15 477.56,14.88 478.50,14.61 479.43,14.35 480.37,14.09 481.30,13.85 482.24,13.60 483.17,13.37 484.11,13.13 485.04,12.91 485.97,12.69 486.91,12.48 487.84,12.27 488.78,12.06 489.71,11.86 490.65,11.67 491.58,11.48 492.52,11.30 493.45,11.12 494.39,10.94 495.32,10.77 496.26,10.61 497.19,10.44 498.13,10.29 499.06,10.13 500.00,9.98 500.93,9.84 501.87,9.70 502.80,9.56 503.74,9.42 504.67,9.29 505.61,9.17 506.54,9.04 507.48,8.92 508.41,8.80 509.34,8.69 510.28,8.58 511.21,8.47 512.15,8.37 513.08,8.26 514.02,8.17 514.95,8.07 515.89,7.97 516.82,7.88 517.76,7.79 518.69,7.71 519.63,7.62 520.56,7.54 521.50,7.46 522.43,7.39 523.37,7.31 524.30,7.24 525.24,7.17 526.17,7.10 527.11,7.03 528.04,6.97 528.98,6.91 529.91,6.85 530.85,6.79 531.78,6.73 532.71,6.67" fill="none" stroke="#000" stroke-width="2.7" stroke-linejoin="round"/>
<line x1="372.86" y1="132.01" x2="533.50" y2="132.01" stroke="#fa7c58" stroke-width="1.25" stroke-dasharray="6.9 6.8"/>
<line x1="372.86" y1="274.00" x2="372.86" y2="132.01" stroke="#fa7c58" stroke-width="1.25" stroke-dasharray="6.9 6.8"/>
<line x1="406.83" y1="66.83" x2="533.50" y2="66.83" stroke="#d40c1e" stroke-width="1.25" stroke-dasharray="6.9 6.8"/>
<line x1="406.83" y1="274.00" x2="406.83" y2="66.83" stroke="#d40c1e" stroke-width="1.25" stroke-dasharray="6.9 6.8"/>
<line x1="470.52" y1="17.12" x2="533.50" y2="17.12" stroke="#4a1890" stroke-width="1.25" stroke-dasharray="6.9 6.8"/>
<line x1="470.52" y1="274.00" x2="470.52" y2="17.12" stroke="#4a1890" stroke-width="1.25" stroke-dasharray="6.9 6.8"/>
<g stroke="#000" stroke-width="1.05" fill="none" stroke-linecap="square">
<path d="M299.80 5.00V274.30H533.50V5.00Z"/>
<line x1="346.54" y1="274.00" x2="346.54" y2="271.50"/>
<line x1="346.54" y1="5.00" x2="346.54" y2="7.50"/>
<line x1="374.58" y1="274.00" x2="374.58" y2="271.50"/>
<line x1="374.58" y1="5.00" x2="374.58" y2="7.50"/>
<line x1="402.63" y1="274.00" x2="402.63" y2="271.50"/>
<line x1="402.63" y1="5.00" x2="402.63" y2="7.50"/>
<line x1="440.02" y1="274.00" x2="440.02" y2="271.50"/>
<line x1="440.02" y1="5.00" x2="440.02" y2="7.50"/>
<line x1="486.76" y1="274.00" x2="486.76" y2="271.50"/>
<line x1="486.76" y1="5.00" x2="486.76" y2="7.50"/>
<line x1="299.80" y1="132.01" x2="302.30" y2="132.01"/>
<line x1="533.50" y1="132.01" x2="531.00" y2="132.01"/>
<line x1="299.80" y1="66.83" x2="302.30" y2="66.83"/>
<line x1="533.50" y1="66.83" x2="531.00" y2="66.83"/>
<line x1="299.80" y1="17.12" x2="302.30" y2="17.12"/>
<line x1="533.50" y1="17.12" x2="531.00" y2="17.12"/>
</g>
<g font-size="13.8" fill="#000" stroke="#000">
<text x="300.10" y="291.0" text-anchor="middle">0.5</text>
<text x="346.84" y="291.0" text-anchor="middle">1</text>
<text x="374.88" y="291.0" text-anchor="middle">1.3</text>
<text x="402.93" y="291.0" text-anchor="middle">1.6</text>
<text x="440.32" y="291.0" text-anchor="middle">2</text>
<text x="487.06" y="291.0" text-anchor="middle">2.5</text>
<text x="533.80" y="291.0" text-anchor="middle">3</text>
<text x="537.3" y="278.85">80</text>
<text x="537.3" y="136.86">90</text>
<text x="537.3" y="71.68">95</text>
<text x="537.3" y="21.97">99</text>
<text x="537.3" y="9.85">100</text>
<text x="417.0" y="306.1" text-anchor="middle">Standard Deviation anomaly ( σ)</text>
<text transform="translate(575.3,139.8) rotate(-90)" text-anchor="middle">Percentile of Gaussian distribution</text>
</g>
<text x="318.5" y="24.5" font-size="17" text-anchor="middle" stroke="none">(b)</text>
</svg></body></html>
